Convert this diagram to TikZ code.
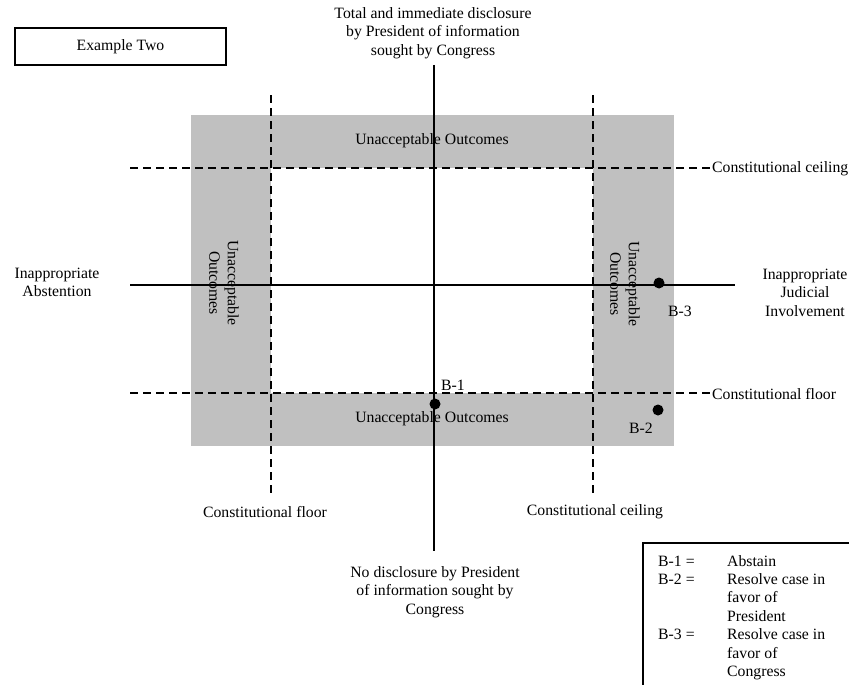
\documentclass[tikz,border=0pt]{standalone}
\usepackage{fontspec}
\setmainfont{Liberation Serif}
\definecolor{band}{RGB}{192,192,192}
\begin{document}
\begin{tikzpicture}[x=1pt,y=-1pt,
  font=\fontsize{15.75}{18.4}\selectfont,
  txt/.style={align=center, inner sep=0pt},
  dashline/.style={line width=2pt, dash pattern=on 8pt off 5pt},
  axisline/.style={line width=1.8pt},
  dot/.style={circle, fill=black, inner sep=0pt, minimum size=11pt},
  framebox/.style={draw, line width=2pt}]
\useasboundingbox (0,0) rectangle (849,685);
% shaded band of unacceptable outcomes
\fill[band] (191,115) rectangle (674,446);
\fill[white] (271,168) rectangle (593,393);
% title box
\node[framebox, minimum width=211pt, minimum height=37pt, inner sep=0pt] (title) at (120.5,46.5) {Example Two};
% labels
\node[txt] (toplab) at (433,33) {Total and immediate disclosure\\by President of information\\sought by Congress};
\node[txt] (botlab) at (435,592) {No disclosure by President\\of information sought by\\Congress};
\node[txt] (leftlab) at (57,282.5) {Inappropriate\\Abstention};
\node[txt] (rightlab) at (805,292.5) {Inappropriate\\Judicial\\Involvement};
\node[txt, anchor=west] (ceilR) at (712,169) {Constitutional ceiling};
\node[txt, anchor=west] (floorR) at (712,394) {Constitutional floor};
\node[txt] (floorB) at (265,512) {Constitutional floor};
\node[txt] (ceilB) at (595,512) {Constitutional ceiling};
% line end points
\coordinate (hc-w) at (130,168);
\coordinate (hf-w) at (130,393);
\coordinate (vf-n) at (271,95);
\coordinate (vf-s) at (271,493);
\coordinate (vc-n) at (593,95);
\coordinate (vc-s) at (593,493);
\coordinate (ax-n) at (434,65);
\coordinate (ax-s) at (434,551);
\coordinate (ax-w) at (130,285);
\coordinate (ax-e) at (735,285);
% dashed constitutional limits
\draw[dashline] (hc-w) -- (hc-w -| ceilR.west);
\draw[dashline] (hf-w) -- (hf-w -| floorR.west);
\draw[dashline] (vf-n) -- (vf-s);
\draw[dashline] (vc-n) -- (vc-s);
% axes
\draw[axisline] (ax-n) -- (ax-s);
\draw[axisline] (ax-w) -- (ax-e);
% band labels
\node[txt] (uo-top) at (432,141) {Unacceptable Outcomes};
\node[txt] (uo-bot) at (432,419) {Unacceptable Outcomes};
\node[txt, rotate=-90] (uo-left) at (224,283) {Unacceptable\\Outcomes};
\node[txt, rotate=-90] (uo-right) at (625,284) {Unacceptable\\Outcomes};
% points
\node[dot] (b1) at (435,404) {};
\node[dot] (b2) at (658,410) {};
\node[dot] (b3) at (659,283) {};
\node[txt] (b1lab) at (453,385) {B-1};
\node[txt] (b2lab) at (641,428) {B-2};
\node[txt] (b3lab) at (680,311) {B-3};
% legend
\coordinate (lg-ne) at (849,543);
\coordinate (lg-nw) at (643,543);
\coordinate (lg-sw) at (643,685);
\draw[line width=2pt] (lg-ne) -- (lg-nw) -- (lg-sw);
\node[inner sep=0pt, anchor=north west] (legend) at (658,553) {%
\begin{tabular}{@{}p{69pt}@{}l@{}}
B-1 = & Abstain\\
B-2 = & Resolve case in\\
 & favor of\\
 & President\\
B-3 = & Resolve case in\\
 & favor of\\
 & Congress
\end{tabular}};
\end{tikzpicture}
\end{document}
